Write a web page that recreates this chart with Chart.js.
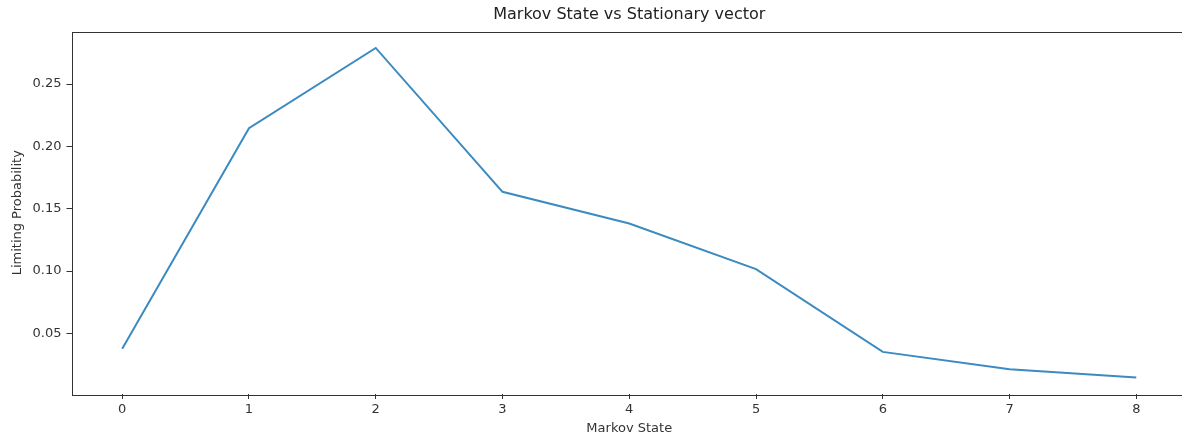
<!DOCTYPE html>
<html>
<head>
<meta charset="utf-8">
<script src="https://cdn.jsdelivr.net/npm/chart.js@4/dist/chart.umd.min.js"></script>
<style>
  html, body { margin: 0; padding: 0; background: #fff; overflow: hidden; }
  #wrap { width: 1182px; height: 436px; overflow: hidden; }
</style>
</head>
<body>
<div id="wrap"><canvas id="myChart" width="1190" height="436"></canvas></div>
<script>
// values
const states = [0, 1, 2, 3, 4, 5, 6, 7, 8];
const limitingProb = [0.0377, 0.2146, 0.2790, 0.1636, 0.1382, 0.1016, 0.0352, 0.0212, 0.0147];
const yTicks = [0.05, 0.10, 0.15, 0.20, 0.25];
const xTicks = [0, 1, 2, 3, 4, 5, 6, 7, 8];
const chartTitle = 'Markov State vs Stationary vector';

const ink = '#333333';
Chart.defaults.font.family = '"DejaVu Sans", sans-serif';
Chart.defaults.color = ink;

// full box around the plot (the right side falls just past the picture edge),
// plus the title centred over the plot area like matplotlib does
const frame = {
  id: 'frame',
  afterDraw(chart) {
    const a = chart.chartArea, c = chart.ctx;
    c.save();
    c.strokeStyle = ink;
    c.lineWidth = 1;
    c.strokeRect(Math.round(a.left) + 0.5, Math.round(a.top) + 0.5,
      Math.round(a.right - a.left), Math.round(a.bottom - a.top));
    c.fillStyle = '#222';
    c.font = '16px "DejaVu Sans", sans-serif';
    c.textAlign = 'center';
    c.textBaseline = 'middle';
    c.fillText(chartTitle, (a.left + a.right) / 2, 15);
    c.restore();
  }
};

new Chart(document.getElementById('myChart'), {
  type: 'line',
  data: {
    datasets: [{
      data: states.map((s, i) => ({ x: s, y: limitingProb[i] })),
      borderColor: '#3b8bc2',
      borderWidth: 2,
      pointRadius: 0,
      tension: 0,
      fill: false
    }]
  },
  options: {
    responsive: false,
    animation: false,
    layout: { padding: { left: 0, right: 3, top: 31.5, bottom: 0 } },
    plugins: {
      legend: { display: false },
      tooltip: { enabled: false },
      title: { display: false }
    },
    scales: {
      x: {
        type: 'linear',
        min: -0.4,
        max: 8.4,
        afterBuildTicks: s => { s.ticks = xTicks.map(v => ({ value: v })); },
        afterFit: s => { s.height = 42; },
        ticks: { font: { size: 13 }, padding: 3, callback: v => String(v) },
        grid: { drawOnChartArea: false, tickLength: 5, color: ink },
        border: { display: false },
        title: {
          display: true, text: 'Markov State', color: ink,
          font: { size: 13 }, padding: { top: 0, bottom: 0 }
        }
      },
      y: {
        type: 'linear',
        min: 0.0014,
        max: 0.2922,
        afterBuildTicks: s => { s.ticks = yTicks.map(v => ({ value: v })); },
        afterFit: s => { s.width = 71.5; },
        ticks: { font: { size: 13 }, padding: 5, callback: v => v.toFixed(2) },
        grid: { drawOnChartArea: false, tickLength: 5, color: ink },
        border: { display: false },
        title: {
          display: true, text: 'Limiting Probability', color: ink,
          font: { size: 13 }, padding: { top: 10, bottom: 0 }
        }
      }
    }
  },
  plugins: [frame]
});
</script>
</body>
</html>
